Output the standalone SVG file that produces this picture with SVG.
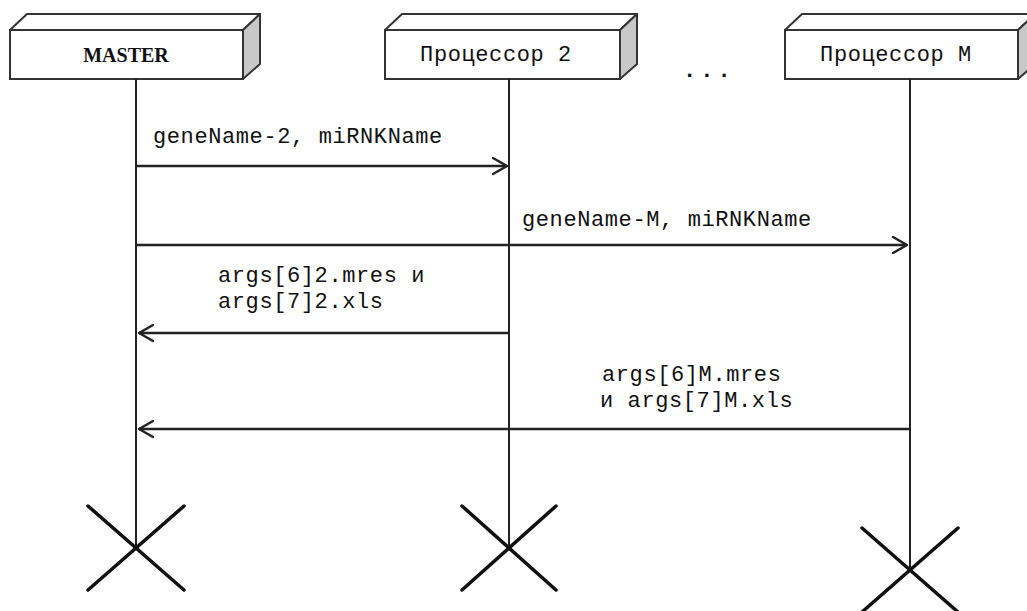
<svg xmlns="http://www.w3.org/2000/svg" width="1027" height="611" viewBox="0 0 1027 611">
<style>
.front{fill:#fff;stroke:#333;stroke-width:2}
.top{fill:#fff;stroke:#333;stroke-width:2;stroke-linejoin:round}
.side{fill:#c8c8c8;stroke:#333;stroke-width:2;stroke-linejoin:round}
.life{stroke:#222;stroke-width:2}
.msg{stroke:#222;stroke-width:2.5;fill:none}
.head{stroke:#222;stroke-width:2.5;fill:none;stroke-linecap:round;stroke-linejoin:round}
.x{stroke:#111;stroke-width:3.5;stroke-linecap:round}
.t{font-family:"Liberation Mono","Courier New",monospace;font-size:22px;fill:#111;letter-spacing:0.6px}
.b{font-family:"Liberation Serif","Times New Roman",serif;font-size:20px;font-weight:bold;fill:#111}
</style>
<rect width="1027" height="611" fill="#fff"/>
<g id="master">
<polygon class="top" points="10,30 27,14 260,14 243,30"/>
<polygon class="side" points="243,30 260,14 260,64 243,79"/>
<rect class="front" x="10" y="30" width="233" height="49"/>
<text class="b" x="126" y="62" text-anchor="middle">MASTER</text>
<line class="life" x1="136" y1="79" x2="136" y2="548"/>
<line class="x" x1="88" y1="506" x2="184" y2="590"/>
<line class="x" x1="184" y1="506" x2="88" y2="590"/>
</g>
<g id="proc2">
<polygon class="top" points="385,30 402,14 637,14 620,30"/>
<polygon class="side" points="620,30 637,14 637,64 620,79"/>
<rect class="front" x="385" y="30" width="235" height="49"/>
<text class="t" x="496" y="61" text-anchor="middle">Процессор 2</text>
<line class="life" x1="509" y1="79" x2="509" y2="548"/>
<line class="x" x1="462" y1="506" x2="556" y2="590"/>
<line class="x" x1="556" y1="506" x2="462" y2="590"/>
</g>
<g id="dots">
<text class="t" x="683" y="77" style="letter-spacing:4px;font-weight:bold">...</text>
</g>
<g id="procM">
<polygon class="top" points="785,30 802,14 1035,14 1018,30"/>
<polygon class="side" points="1018,30 1035,14 1035,64 1018,79"/>
<rect class="front" x="785" y="30" width="233" height="49"/>
<text class="t" x="896" y="61" text-anchor="middle">Процессор М</text>
<line class="life" x1="910" y1="79" x2="910" y2="572"/>
<line class="x" x1="862" y1="528" x2="958" y2="612"/>
<line class="x" x1="958" y1="528" x2="862" y2="612"/>
</g>
<g id="connectors">
<line class="msg" x1="136" y1="166" x2="507" y2="166"/>
<polyline class="head" points="493,158 507,166 493,174"/>
<text class="t" x="153" y="143">geneName-2, miRNKName</text>
<line class="msg" x1="136" y1="245" x2="907" y2="245"/>
<polyline class="head" points="893,237 907,245 893,253"/>
<text class="t" x="522" y="226">geneName-M, miRNKName</text>
<line class="msg" x1="509" y1="333" x2="139" y2="333"/>
<polyline class="head" points="153,325 139,333 153,341"/>
<text class="t" x="218" y="282">args[6]2.mres и</text>
<text class="t" x="218" y="308">args[7]2.xls</text>
<line class="msg" x1="910" y1="429" x2="139" y2="429"/>
<polyline class="head" points="153,421 139,429 153,437"/>
<text class="t" x="602" y="381">args[6]M.mres</text>
<text class="t" x="600" y="407">и args[7]M.xls</text>
</g>
</svg>
